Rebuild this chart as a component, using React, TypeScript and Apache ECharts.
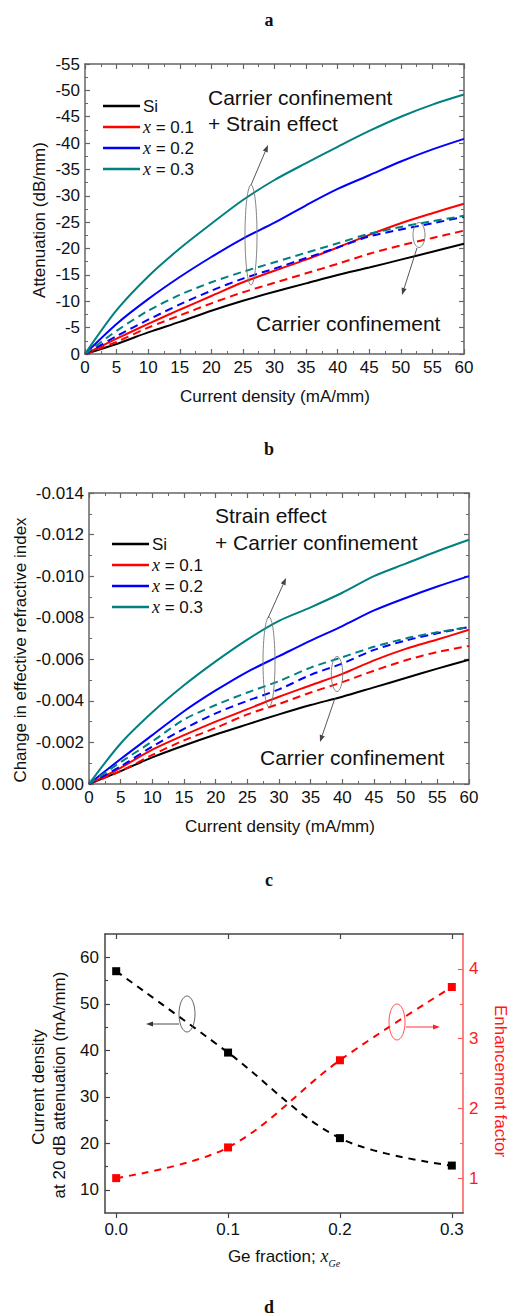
import React, { useEffect, useRef } from "react";
import * as echarts from "echarts";

// ---------- data ----------
const currentDensity = [0, 5, 10, 15, 20, 25, 30, 35, 40, 45, 50, 55, 60];

// Panel a: attenuation (dB/mm); solid = carrier confinement + strain, dashed = carrier confinement only
const attSi = [0, -1.9, -4.1, -6.1, -8.2, -10.1, -11.8, -13.4, -15.0, -16.4, -17.9, -19.4, -20.9];
const attX01 = [0, -2.9, -5.7, -8.4, -11.0, -13.6, -15.8, -17.9, -20.2, -22.6, -24.8, -26.7, -28.5];
const attX02 = [0, -5.7, -10.4, -14.6, -18.4, -21.9, -24.9, -28.2, -31.3, -33.9, -36.5, -38.8, -40.8];
const attX03 = [0, -8.3, -14.7, -20.0, -24.7, -29.2, -33.0, -36.2, -39.3, -42.3, -45.0, -47.3, -49.2];
const attX01cc = [0, -2.3, -5.0, -7.3, -9.6, -11.7, -13.5, -15.3, -17.1, -19.0, -20.6, -22.0, -23.4];
const attX02cc = [0, -3.4, -6.5, -9.4, -12.0, -14.3, -16.2, -18.2, -20.2, -22.3, -23.6, -24.8, -26.0];
const attX03cc = [0, -4.4, -8.2, -11.2, -13.6, -15.6, -17.4, -19.2, -21.0, -22.8, -24.1, -25.2, -26.2];

// Panel b: change in effective refractive index
const dnSi = [0, -0.00062, -0.00128, -0.00185, -0.00238, -0.00287, -0.00335, -0.0038, -0.0042, -0.00465, -0.0051, -0.00555, -0.00598];
const dnX01 = [0, -0.00078, -0.00165, -0.00235, -0.003, -0.0036, -0.0042, -0.00475, -0.0053, -0.00595, -0.0065, -0.00695, -0.00742];
const dnX02 = [0, -0.0012, -0.00235, -0.0035, -0.0045, -0.0054, -0.00615, -0.0069, -0.0076, -0.00835, -0.00895, -0.0095, -0.01];
const dnX03 = [0, -0.00195, -0.00345, -0.00475, -0.0059, -0.00695, -0.00785, -0.0085, -0.0092, -0.01, -0.0106, -0.0112, -0.01175];
const dnX01cc = [0, -0.00062, -0.0014, -0.0021, -0.0027, -0.00335, -0.00385, -0.0044, -0.0049, -0.00545, -0.00595, -0.00635, -0.00664];
const dnX02cc = [0, -0.00085, -0.0018, -0.00265, -0.0034, -0.004, -0.00455, -0.00525, -0.0058, -0.00645, -0.0069, -0.00725, -0.00755];
const dnX03cc = [0, -0.00105, -0.00205, -0.0031, -0.0038, -0.0044, -0.00495, -0.0056, -0.0061, -0.0066, -0.007, -0.0073, -0.00755];

// Panel c
const geFraction = [0, 0.1, 0.2, 0.3];
const currentAt20dB = [57.0, 39.5, 21.1, 15.2];
const enhancementFactor = [1.0, 1.44, 2.69, 3.74];

const seriesNames = ["Si", "x = 0.1", "x = 0.2", "x = 0.3"];
const xTicksC = [0, 0.1, 0.2, 0.3];
const leftTicksC = [10, 20, 30, 40, 50, 60];
const leftMinorC = [15, 25, 35, 45, 55];
const rightTicksC = [1, 2, 3, 4];
const rightMinorC = [1.5, 2.5, 3.5];

// ---------- styles ----------
const SANS = "'Liberation Sans', Arial, sans-serif";
const SERIF = "'Liberation Serif', 'Times New Roman', serif";
const COLORS = ["#000000", "#ff0000", "#0000ff", "#008080"];
const AXIS_GRAY = "#666666";

const pairs = (xs: number[], ys: number[]) => xs.map((x, i) => [x, ys[i]]);

function arrow(x1: number, y1: number, x2: number, y2: number, color: string) {
  const dx = x2 - x1;
  const dy = y2 - y1;
  const len = Math.sqrt(dx * dx + dy * dy);
  const ux = dx / len;
  const uy = dy / len;
  const hl = 7;
  const hw = 2.6;
  const bx = x2 - ux * hl;
  const by = y2 - uy * hl;
  return [
    { type: "line", shape: { x1, y1, x2: bx, y2: by }, style: { stroke: color, lineWidth: 0.9 }, z: 100 },
    {
      type: "polygon",
      shape: { points: [[x2, y2], [bx - uy * hw, by + ux * hw], [bx + uy * hw, by - ux * hw]] },
      style: { fill: color },
      z: 100,
    },
  ];
}

function ellipse(cx: number, cy: number, rx: number, ry: number, color: string) {
  return { type: "ellipse", shape: { cx, cy, rx, ry }, style: { fill: "none", stroke: color, lineWidth: 0.9 }, z: 100 };
}

function txt(x: number, y: number, text: string, size: number, opts: any = {}) {
  return {
    type: "text",
    x,
    y,
    rotation: opts.rotation || 0,
    z: 100,
    style: {
      text,
      fontSize: size,
      fontFamily: opts.family || SANS,
      fontWeight: opts.weight || "normal",
      fill: opts.color || "#111",
      align: opts.align || "left",
      textAlign: opts.align || "left",
      verticalAlign: "middle",
      textVerticalAlign: "middle",
      rich: opts.rich,
    },
  };
}

function frameAxis(gridIndex: number, position: string, min: number, max: number, interval: number, extra: any = {}) {
  return {
    type: "value",
    gridIndex,
    position,
    min,
    max,
    interval,
    splitLine: { show: false },
    axisLine: { show: true, onZero: false, lineStyle: { color: AXIS_GRAY, width: 1.5 } },
    axisTick: { show: true, inside: true, length: 5, lineStyle: { color: AXIS_GRAY, width: 1.2 } },
    minorTick: { show: true, splitNumber: 2, length: 3, lineStyle: { color: AXIS_GRAY, width: 1 } },
    axisLabel: { show: false },
    ...extra,
  };
}

const tickLabel = (fmt?: (v: number) => string) => ({
  show: true,
  fontSize: 17,
  fontFamily: SANS,
  color: "#111",
  margin: 5,
  formatter: fmt,
});

export default function App() {
  const ref = useRef<HTMLDivElement>(null);

  useEffect(() => {
    document.body.style.margin = "0";
    if (!ref.current) return;
    const chart = echarts.init(ref.current, undefined, { renderer: "svg" });

    const lineSeries = (name: string, xi: number, yi: number, data: number[], color: string, dashed: boolean, z: number) => ({
      type: "line",
      name,
      xAxisIndex: xi,
      yAxisIndex: yi,
      data: pairs(currentDensity, data),
      showSymbol: false,
      symbol: "none",
      smooth: 0.3,
      z,
      lineStyle: { color, width: 2, type: dashed ? [8, 5] : "solid" },
      itemStyle: { color },
    });

    const aSolid = [attSi, attX01, attX02, attX03];
    const aDashed = [attX01cc, attX02cc, attX03cc];
    const bSolid = [dnSi, dnX01, dnX02, dnX03];
    const bDashed = [dnX01cc, dnX02cc, dnX03cc];

    const series: any[] = [];
    aSolid.forEach((d, i) => series.push(lineSeries(seriesNames[i], 0, 0, d, COLORS[i], false, 2)));
    aDashed.forEach((d, i) =>
      series.push(lineSeries(seriesNames[i + 1] + " (carrier confinement)", 0, 0, d, COLORS[i + 1], true, 3))
    );
    bSolid.forEach((d, i) => series.push(lineSeries(seriesNames[i], 2, 2, d, COLORS[i], false, 2)));
    bDashed.forEach((d, i) =>
      series.push(lineSeries(seriesNames[i + 1] + " (carrier confinement)", 2, 2, d, COLORS[i + 1], true, 3))
    );
    series.push({
      type: "line",
      name: "Current density at 20 dB attenuation",
      xAxisIndex: 4,
      yAxisIndex: 4,
      data: pairs(geFraction, currentAt20dB),
      symbol: "rect",
      symbolSize: 8,
      smooth: 0.35,
      lineStyle: { color: "#000", width: 2, type: [7, 6] },
      itemStyle: { color: "#000" },
      z: 3,
    });
    series.push({
      type: "line",
      name: "Enhancement factor",
      xAxisIndex: 4,
      yAxisIndex: 5,
      data: pairs(geFraction, enhancementFactor),
      symbol: "rect",
      symbolSize: 8,
      smooth: 0.35,
      lineStyle: { color: "#ff0000", width: 2, type: [7, 6] },
      itemStyle: { color: "#ff0000" },
      z: 3,
    });

    const legendBase = (left: number, top: number) => ({
      orient: "vertical",
      left,
      top,
      data: seriesNames,
      icon: "rect",
      itemWidth: 37,
      itemHeight: 2.5,
      itemGap: 3,
      selectedMode: false,
      textStyle: {
        fontSize: 17,
        fontFamily: SANS,
        color: "#111",
        lineHeight: 18,
        padding: [0, 0, 0, -2],
        rich: { i: { fontSize: 18, fontFamily: SERIF, fontStyle: "italic", color: "#111", lineHeight: 18 } },
      },
      formatter: (name: string) => (name.startsWith("x") ? "{i|x}" + name.slice(1) : name),
    });

    const ticksC = (vals: number[], inside: boolean, color: string, length = 5) => ({
      show: true,
      inside,
      length,
      customValues: vals,
      lineStyle: { color, width: 1.2 },
    });

    const graphics: any[] = [
      // panel labels
      txt(269, 20, "a", 18, { family: SERIF, weight: "bold", align: "center" }),
      txt(269, 449, "b", 18, { family: SERIF, weight: "bold", align: "center" }),
      txt(269, 880, "c", 18, { family: SERIF, weight: "bold", align: "center" }),
      txt(269, 1307, "d", 18, { family: SERIF, weight: "bold", align: "center" }),
      // panel a axis names
      txt(39, 220, "Attenuation (dB/mm)", 17, { align: "center", rotation: Math.PI / 2 }),
      txt(275, 396, "Current density (mA/mm)", 17, { align: "center" }),
      // panel a annotations
      txt(208, 97, "Carrier confinement", 21),
      txt(208, 123, "+ Strain effect", 21),
      txt(256, 323, "Carrier confinement", 21),
      ellipse(251, 235, 6, 50, "#777"),
      ...arrow(251, 185, 268, 145, "#444"),
      ellipse(419, 235, 6, 12.5, "#777"),
      ...arrow(417, 248, 402, 295, "#444"),
      // panel b axis names
      txt(20, 650, "Change in effective refractive index", 17, { align: "center", rotation: Math.PI / 2 }),
      txt(280, 826, "Current density (mA/mm)", 17, { align: "center" }),
      // panel b annotations
      txt(215, 515, "Strain effect", 21),
      txt(215, 542, "+ Carrier confinement", 21),
      txt(260, 757, "Carrier confinement", 21),
      ellipse(269, 662, 6, 45, "#777"),
      ...arrow(268, 618, 286, 578, "#444"),
      ellipse(337, 674, 5.7, 17.5, "#777"),
      ...arrow(335, 698, 320, 742, "#444"),
      // panel c axis names
      txt(38, 1087, "Current density", 17, { align: "center", rotation: Math.PI / 2 }),
      txt(59, 1085, "at 20 dB attenuation (mA/mm)", 17, { align: "center", rotation: Math.PI / 2 }),
      txt(500, 1081, "Enhancement factor", 17, { align: "center", rotation: -Math.PI / 2, color: "#ff1a1a" }),
      txt(284, 1256, "Ge fraction; {i|x}{sub|Ge}", 17, {
        align: "center",
        rich: {
          i: { fontSize: 18, fontFamily: SERIF, fontStyle: "italic", lineHeight: 20, fill: "#111" },
          sub: { fontSize: 10, fontFamily: SERIF, fontStyle: "italic", lineHeight: 10, padding: [14, 0, 0, 0], fill: "#111" },
        },
      }),
      // panel c annotations
      ellipse(187, 1014, 8, 18, "#555"),
      ...arrow(179, 1024, 146, 1024, "#333"),
      ellipse(397, 1022, 8, 18, "#ff4040"),
      ...arrow(406, 1027, 440, 1027, "#ff2020"),
    ];

    const option: any = {
      animation: false,
      backgroundColor: "#ffffff",
      grid: [
        { left: 85, top: 64, width: 379, height: 290, containLabel: false },
        { left: 89, top: 493, width: 380, height: 291, containLabel: false },
        { left: 105, top: 934, width: 358, height: 279, containLabel: false },
      ],
      legend: [legendBase(98, 92), legendBase(107, 530)],
      xAxis: [
        frameAxis(0, "bottom", 0, 60, 5, { axisLabel: tickLabel() }),
        frameAxis(0, "top", 0, 60, 5),
        frameAxis(1, "bottom", 0, 60, 5, { axisLabel: tickLabel() }),
        frameAxis(1, "top", 0, 60, 5),
        {
          type: "value",
          gridIndex: 2,
          position: "bottom",
          min: -0.01,
          max: 0.31,
          splitLine: { show: false },
          axisLine: { show: true, onZero: false, lineStyle: { color: "#444", width: 1.5 } },
          axisTick: ticksC(xTicksC, false, "#444"),
          axisLabel: {
            ...tickLabel((v: number) => v.toFixed(1)),
            margin: 8,
            customValues: xTicksC,
          },
        },
        {
          type: "value",
          gridIndex: 2,
          position: "top",
          min: -0.01,
          max: 0.31,
          splitLine: { show: false },
          axisLine: { show: true, onZero: false, lineStyle: { color: "#444", width: 1.5 } },
          axisTick: ticksC(xTicksC, true, "#444"),
          axisLabel: { show: false },
        },
      ],
      yAxis: [
        frameAxis(0, "left", -55, 0, 5, { inverse: true, axisLabel: tickLabel() }),
        frameAxis(0, "right", -55, 0, 5, { inverse: true }),
        frameAxis(1, "left", -0.014, 0, 0.002, {
          inverse: true,
          axisLabel: tickLabel((v: number) => v.toFixed(3)),
        }),
        frameAxis(1, "right", -0.014, 0, 0.002, { inverse: true }),
        {
          type: "value",
          gridIndex: 2,
          position: "left",
          min: 5,
          max: 65,
          splitLine: { show: false },
          axisLine: { show: true, onZero: false, lineStyle: { color: "#444", width: 1.5 } },
          axisTick: ticksC(leftTicksC, true, "#444"),
          axisLabel: { ...tickLabel(), margin: 6, customValues: leftTicksC },
        },
        {
          type: "value",
          gridIndex: 2,
          position: "right",
          min: 0.5,
          max: 4.5,
          splitLine: { show: false },
          axisLine: { show: true, onZero: false, lineStyle: { color: "#ff5a5a", width: 1.5 } },
          axisTick: ticksC(rightTicksC, true, "#ff5a5a"),
          axisLabel: { ...tickLabel(), color: "#ff1a1a", margin: 6, customValues: rightTicksC },
        },
        {
          type: "value",
          gridIndex: 2,
          position: "left",
          offset: 0,
          min: 5,
          max: 65,
          splitLine: { show: false },
          axisLine: { show: false, onZero: false },
          axisTick: ticksC(leftMinorC, true, "#444", 3),
          axisLabel: { show: false },
        },
        {
          type: "value",
          gridIndex: 2,
          position: "right",
          offset: 0,
          min: 0.5,
          max: 4.5,
          splitLine: { show: false },
          axisLine: { show: false, onZero: false },
          axisTick: ticksC(rightMinorC, true, "#ff5a5a", 3),
          axisLabel: { show: false },
        },
      ],
      series,
      graphic: graphics,
    };

    chart.setOption(option);
    return () => chart.dispose();
  }, []);

  return <div ref={ref} style={{ width: 511, height: 1316 }} />;
}
